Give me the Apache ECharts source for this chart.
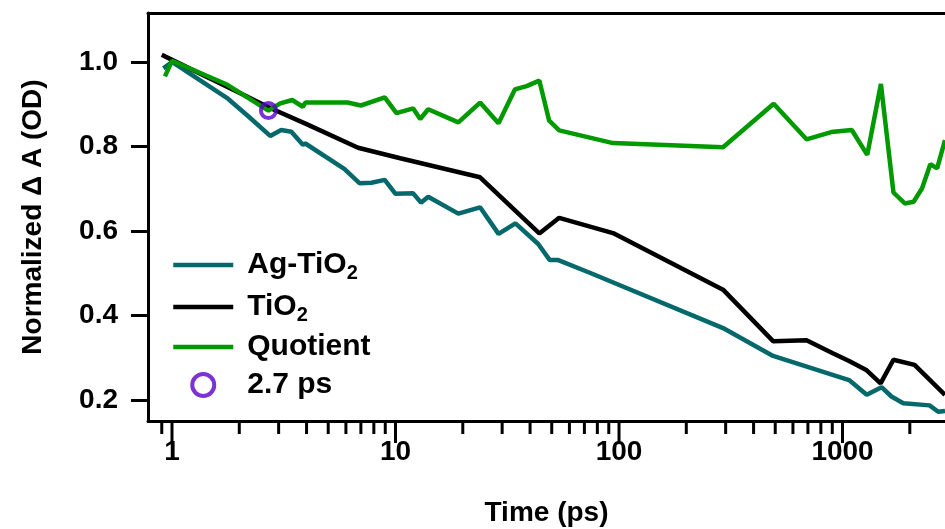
<!DOCTYPE html>
<html>
<head>
<meta charset="utf-8">
<script src="https://cdn.jsdelivr.net/npm/echarts@6/dist/echarts.min.js"></script>
<style>
  html, body { margin: 0; padding: 0; background: #fff; }
  #chart { width: 945px; height: 529px; }
</style>
</head>
<body>
<div id="chart"></div>
<script>
// Normalized transient absorption decays, time in ps (log axis)
const agTiO2 = [
  [0.915, 0.985], [1.0, 1.0], [1.78, 0.913], [2.2, 0.871], [2.75, 0.825],
  [3.08, 0.839], [3.42, 0.835], [3.85, 0.804], [3.95, 0.807], [5.9, 0.747],
  [6.9, 0.713], [7.8, 0.714], [8.95, 0.721], [10.0, 0.688], [12.0, 0.689],
  [13.0, 0.667], [14.0, 0.681], [19.1, 0.641], [23.9, 0.656], [28.9, 0.593],
  [34.4, 0.618], [43.5, 0.569], [49.0, 0.531], [53.5, 0.531], [74, 0.501],
  [292, 0.370], [489, 0.304], [1070, 0.247], [1283, 0.212], [1495, 0.230],
  [1655, 0.208], [1870, 0.192], [2450, 0.187], [2680, 0.172], [2874, 0.174]
];
const tiO2 = [
  [0.9, 1.017], [1.0, 1.005], [2.0, 0.927], [2.78, 0.890], [4.0, 0.853],
  [6.8, 0.797], [10.5, 0.772], [23.9, 0.727], [44, 0.594], [54, 0.631],
  [94, 0.595], [292, 0.461], [489, 0.339], [690, 0.341], [900, 0.311],
  [1070, 0.292], [1283, 0.270], [1480, 0.239], [1690, 0.295], [2100, 0.283],
  [2874, 0.212]
];
const quotient = [
  [0.93, 0.966], [1.0, 1.003], [1.77, 0.946], [2.7, 0.885], [3.05, 0.902],
  [3.45, 0.910], [3.85, 0.894], [3.95, 0.904], [6.1, 0.904], [7.0, 0.897],
  [8.95, 0.916], [10.1, 0.879], [12.0, 0.890], [12.9, 0.865], [14.0, 0.888],
  [19.1, 0.857], [23.9, 0.904], [28.9, 0.855], [34.2, 0.935], [38.6, 0.943],
  [44, 0.956], [48.7, 0.861], [54, 0.838], [94, 0.808], [292, 0.798],
  [492, 0.901], [690, 0.817], [890, 0.834], [1100, 0.839], [1290, 0.780],
  [1485, 0.948], [1690, 0.691], [1900, 0.665], [2080, 0.669], [2270, 0.701],
  [2470, 0.758], [2650, 0.748], [2874, 0.815]
];
const marker27 = [[2.7, 0.885]];

// Axis ranges and ticks
const X_MIN = 0.781, X_MAX = 2874;
const Y_MIN = 0.150, Y_MAX = 1.116;
const yTicks = [0.2, 0.4, 0.6, 0.8, 1.0];
const xMajorTicks = [1, 10, 100, 1000];
const xMinorTicks = [0.9, 2, 3, 4, 5, 6, 7, 8, 9, 20, 30, 40, 50, 60, 70, 80, 90,
  200, 300, 400, 500, 600, 700, 800, 900, 2000];

const FONT = '"Liberation Sans", Arial, Helvetica, sans-serif';
const COLORS = { ag: '#05686a', ti: '#000000', q: '#009900', mk: '#5a00c8' };

const chart = echarts.init(document.getElementById('chart'), null, { renderer: 'canvas' });

function isDecade(v) {
  const l = Math.log10(v);
  return Math.abs(l - Math.round(l)) < 1e-6;
}

function legendLabel(name) {
  if (/TiO2$/.test(name)) return '{sp|}{m|' + name.slice(0, -1) + '}{s|2}';
  return '{sp|}{m|' + name + '}';
}

const tickData = xMajorTicks.concat(xMinorTicks).map(t => [t, Y_MIN]);

// line entries show only their stroke in the legend
const lineLegendItem = name => ({ name: name, itemStyle: { opacity: 0 } });

const option = {
  animation: false,
  backgroundColor: '#fff',
  grid: { left: 148, right: 0, top: 13, bottom: 108, containLabel: false, outerBoundsMode: 'none' },
  legend: {
    data: [
      lineLegendItem('Ag-TiO2'),
      lineLegendItem('TiO2'),
      lineLegendItem('Quotient'),
      { name: '2.7 ps', itemStyle: { borderWidth: 4, borderColor: COLORS.mk, color: '#fff' } }
    ],
    orient: 'vertical',
    left: 167,
    top: 243,
    itemWidth: 60,
    itemHeight: 22,
    itemGap: 6,
    backgroundColor: '#fff',
    padding: [4, 8, 4, 4],
    selectedMode: false,
    formatter: legendLabel,
    lineStyle: { width: 4.5 },
    textStyle: {
      color: '#000',
      fontFamily: FONT,
      fontWeight: 'bold',
      fontSize: 30,
      lineHeight: 32,
      rich: {
        sp: { width: 9 },
        m: { fontFamily: FONT, fontWeight: 'bold', fontSize: 30, lineHeight: 32, color: '#000' },
        s: { fontFamily: FONT, fontWeight: 'bold', fontSize: 20, lineHeight: 32, padding: [16, 0, 0, 0], color: '#000' }
      }
    }
  },
  xAxis: [
    {
      type: 'log',
      logBase: 10,
      min: X_MIN,
      max: X_MAX,
      position: 'bottom',
      name: 'Time (ps)',
      nameLocation: 'middle',
      nameGap: 78,
      nameTextStyle: { fontFamily: FONT, fontWeight: 'bold', fontSize: 28, color: '#000' },
      axisLine: { show: true, lineStyle: { color: '#000', width: 3 } },
      axisTick: { show: false },
      axisLabel: {
        margin: 17,
        fontFamily: FONT, fontWeight: 'bold', fontSize: 28, color: '#000',
        formatter: v => (isDecade(v) ? String(Math.round(v)) : '')
      },
      splitLine: { show: false },
      minorTick: { show: false },
      minorSplitLine: { show: false }
    },
    {
      type: 'log',
      logBase: 10,
      min: X_MIN,
      max: X_MAX,
      position: 'top',
      axisLine: { show: true, lineStyle: { color: '#000', width: 3 } },
      axisTick: { show: false },
      axisLabel: { show: false },
      splitLine: { show: false }
    }
  ],
  yAxis: {
    type: 'value',
    min: Y_MIN,
    max: Y_MAX,
    name: 'Normalized \u0394 A (OD)',
    nameLocation: 'middle',
    nameGap: 101,
    nameTextStyle: { fontFamily: FONT, fontWeight: 'bold', fontSize: 28, color: '#000' },
    axisLine: { show: true, lineStyle: { color: '#000', width: 3 } },
    axisTick: { show: true, inside: false, length: 17, customValues: yTicks, lineStyle: { color: '#000', width: 3 } },
    axisLabel: {
      customValues: yTicks,
      margin: 30,
      fontFamily: FONT, fontWeight: 'bold', fontSize: 28, color: '#000',
      formatter: v => v.toFixed(1)
    },
    splitLine: { show: false }
  },
  series: [
    {
      name: 'Ag-TiO2', type: 'line', data: agTiO2, symbol: 'none',
      lineStyle: { color: COLORS.ag, width: 4.5 }, itemStyle: { color: COLORS.ag }, z: 2
    },
    {
      name: 'TiO2', type: 'line', data: tiO2, symbol: 'none',
      lineStyle: { color: COLORS.ti, width: 4.5 }, itemStyle: { color: COLORS.ti }, z: 3
    },
    {
      name: 'Quotient', type: 'line', data: quotient, symbol: 'none',
      lineStyle: { color: COLORS.q, width: 4.5 }, itemStyle: { color: COLORS.q }, z: 4
    },
    {
      name: '2.7 ps', type: 'scatter', data: marker27, symbol: 'circle', symbolSize: 15,
      itemStyle: { color: 'rgba(255,255,255,0)', borderColor: COLORS.mk, borderWidth: 4 }, z: 6
    },
    {
      // log-spaced tick marks below the time axis
      type: 'custom',
      data: tickData,
      clip: false,
      silent: true,
      z: 5,
      renderItem: function (params, api) {
        const t = api.value(0);
        const p = api.coord([t, api.value(1)]);
        const len = isDecade(t) ? 22 : 13;
        return {
          type: 'line',
          shape: { x1: p[0], y1: p[1], x2: p[0], y2: p[1] + len },
          style: { stroke: '#000', lineWidth: 3 }
        };
      }
    }
  ]
};

chart.setOption(option);
</script>
</body>
</html>
